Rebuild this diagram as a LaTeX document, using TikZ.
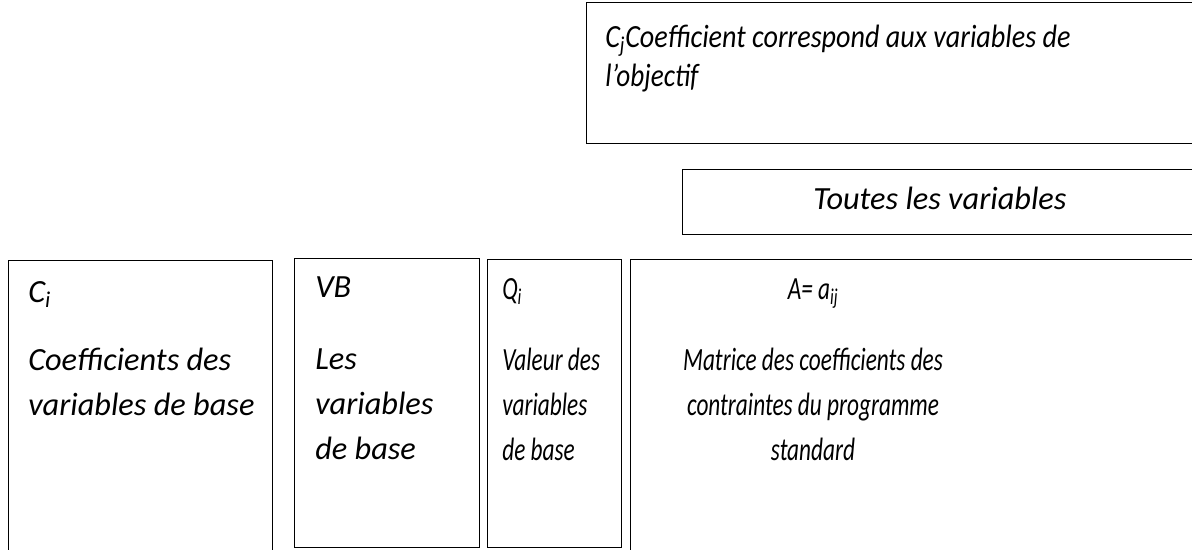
\documentclass[tikz,border=0pt]{standalone}
\usepackage{fontspec}
\setmainfont{Carlito}
\newcommand{\etroit}[2][0.72]{\scalebox{#1}[1]{#2}}
\begin{document}
\begin{tikzpicture}[x=0.25mm,y=-0.25mm,
  cell/.style={line width=0.6pt},
  lbl/.style={anchor=base west, inner sep=0pt, font=\itshape\fontsize{23}{32}\selectfont},
  clbl/.style={anchor=base, inner sep=0pt, font=\itshape\fontsize{23}{32}\selectfont}]
  %%%%% CADRE %%%%%
  \clip (0,0) rectangle (1192,549);

  % objectif
  \draw[cell] (586,2) rectangle (1200,143);
  \node[lbl] (cj) at (605,47) {\etroit[0.87]{C\textsubscript{j}Coefficient correspond aux variables de}};
  \node[lbl] (obj) at (605,86) {\etroit[0.84]{l’objectif}};

  % toutes les variables
  \draw[cell] (682,169) rectangle (1200,234);
  \node[clbl] (tv) at (940,209) {Toutes les variables};

  % colonnes du tableau
  \draw[cell] (8,260) rectangle (272,560);
  \draw[cell] (294,258) rectangle (479,547);
  \draw[cell] (487,259) rectangle (621,547);
  \draw[cell] (630,259) rectangle (1200,560);

  \node[lbl] (ci) at (28,302) {C\textsubscript{i}};
  \node[lbl] (ci1) at (28,370) {Coefficients des};
  \node[lbl] (ci2) at (28,415) {variables de base};

  \node[lbl] (vb) at (315,297) {VB};
  \node[lbl] (vb1) at (315,369) {Les};
  \node[lbl] (vb2) at (315,414) {variables};
  \node[lbl] (vb3) at (315,459) {de base};

  \node[lbl] (qi) at (502,299) {\etroit{Q\textsubscript{i}}};
  \node[lbl] (qi1) at (502,370) {\etroit{Valeur des}};
  \node[lbl] (qi2) at (502,415) {\etroit{variables}};
  \node[lbl] (qi3) at (502,460) {\etroit{de base}};

  \node[clbl] (a) at (813,299) {\etroit{A= a\textsubscript{ij}}};
  \node[clbl] (a1) at (813,370) {\etroit{Matrice des coefficients des}};
  \node[clbl] (a2) at (813,415) {\etroit{contraintes du programme}};
  \node[clbl] (a3) at (813,460) {\etroit{standard}};
\end{tikzpicture}
\end{document}
